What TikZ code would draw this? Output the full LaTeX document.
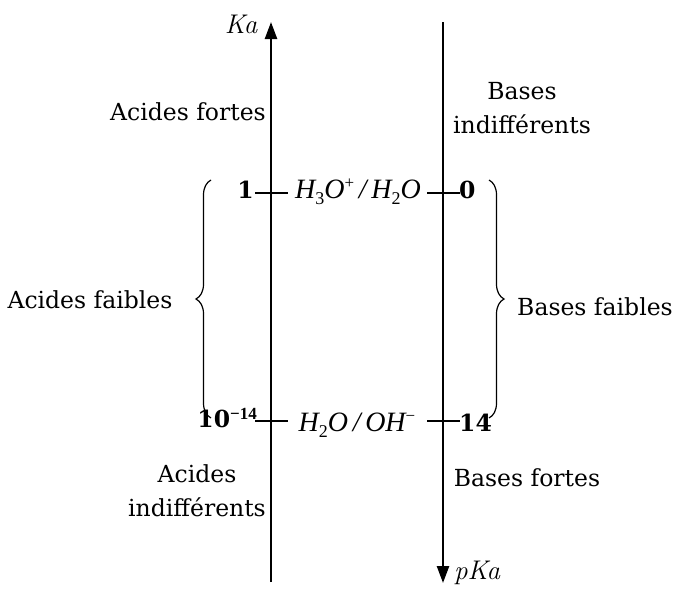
\documentclass[tikz,border=0pt]{standalone}
\usepackage{fontspec}
\setmainfont{DejaVu Serif}
\newfontfamily\tms{Liberation Serif}
\newfontfamily\lmr{Latin Modern Roman}
\usetikzlibrary{arrows.meta,decorations.pathreplacing}
\newcommand{\chemf}[1]{{\tms\itshape #1}}
\newcommand{\lowi}[1]{\raisebox{-0.45ex}{\fontsize{18}{18}\selectfont\upshape #1}}
\newcommand{\upi}[1]{\raisebox{0.8ex}{\fontsize{17}{17}\selectfont\upshape #1}}
\begin{document}
\begin{tikzpicture}[x=1pt,y=-1pt,
  lbl/.style={font=\fontsize{23.5}{34}\selectfont, inner sep=0pt, align=center},
  frm/.style={font=\fontsize{28}{34}\selectfont, inner sep=0pt},
  axlbl/.style={font=\lmr\itshape\fontsize{27}{30}\selectfont, inner sep=0pt},
  axis/.style={line width=2.4pt, -{Triangle[length=17pt,width=12pt]}},
  tick/.style={line width=1.8pt},
  brc/.style={line width=1.2pt, decorate, decoration={brace, amplitude=15pt}}]
\useasboundingbox (0,0) rectangle (684,589);
% axes
\coordinate (La) at (271,582);
\coordinate (Lb) at (271,22);
\coordinate (Ra) at (443,22);
\coordinate (Rb) at (443,583);
\draw[axis] (La) -- (Lb);
\draw[axis] (Ra) -- (Rb);
% ticks
\coordinate (t1a) at (255,193); \coordinate (t1b) at (288,193);
\coordinate (t2a) at (427,193); \coordinate (t2b) at (460,193);
\coordinate (t3a) at (255,421); \coordinate (t3b) at (288,421);
\coordinate (t4a) at (427,421); \coordinate (t4b) at (460,421);
\draw[tick] (t1a) -- (t1b);
\draw[tick] (t2a) -- (t2b);
\draw[tick] (t3a) -- (t3b);
\draw[tick] (t4a) -- (t4b);
% braces
\coordinate (b1a) at (211,418); \coordinate (b1b) at (211,180);
\coordinate (b2a) at (489,180); \coordinate (b2b) at (489,418);
\draw[brc] (b1a) -- (b1b);
\draw[brc] (b2a) -- (b2b);
% labels
\node[axlbl] (ka) at (241,24) {Ka};
\node[axlbl] (pka) at (477,573) {pKa};
\node[lbl] (af) at (188,112) {Acides fortes};
\node[lbl] (bi) at (522,108) {Bases\\indifférents};
\node[lbl, anchor=east] (one) at (254,190) {\textbf{1}};
\node[frm] (h3o) at (358,192) {\chemf{H\lowi{3}O\upi{+}\,/\,H\lowi{2}O}};
\node[lbl, anchor=west] (zero) at (459,190) {\textbf{0}};
\node[lbl] (afa) at (90,300) {Acides faibles};
\node[lbl] (bfa) at (595,307) {Bases faibles};
\node[lbl, anchor=east] (tenm) at (257,418) {\textbf{10}\raisebox{0.6ex}{\fontsize{17}{17}\selectfont\bfseries\tms \char"2212 14}};
\node[frm] (h2o) at (357,425) {\chemf{H\lowi{2}O\,/\,OH\upi{\char"2212}}};
\node[lbl, anchor=west] (ft) at (459,423) {\textbf{14}};
\node[lbl] (ai) at (197,491) {Acides\\indifférents};
\node[lbl] (bf) at (527,478) {Bases fortes};
\end{tikzpicture}
\end{document}
